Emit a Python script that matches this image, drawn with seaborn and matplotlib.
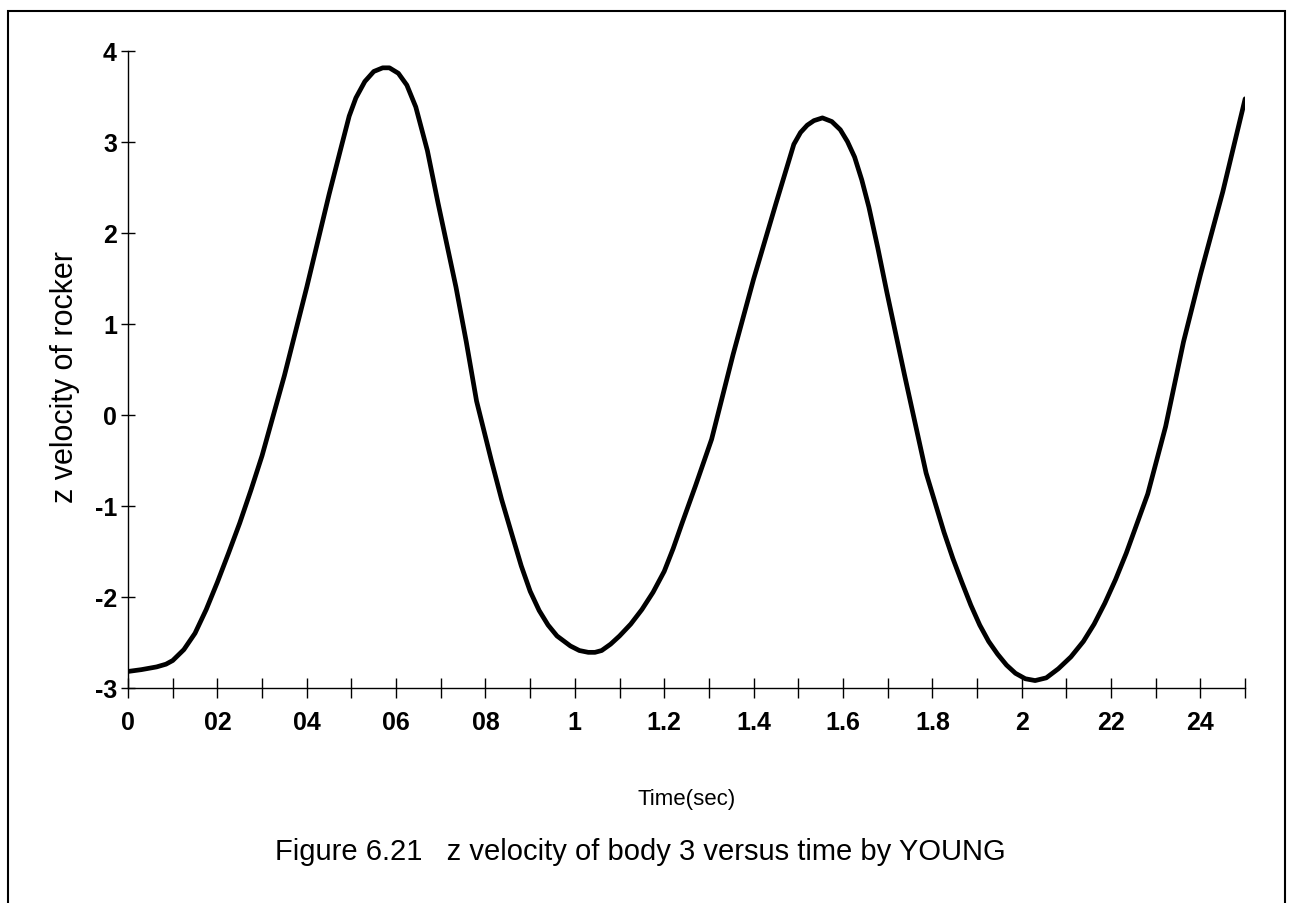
import matplotlib
matplotlib.use("Agg")
import matplotlib.pyplot as plt
import seaborn as sns
import pandas as pd

# curve
time_sec = [0.00, 0.03, 0.064, 0.085, 0.10, 0.125, 0.15, 0.175, 0.20, 0.225,
            0.25, 0.275, 0.30, 0.35, 0.40, 0.45, 0.475, 0.495, 0.51, 0.53,
            0.55, 0.57, 0.585, 0.605, 0.624, 0.644, 0.67, 0.694, 0.714, 0.734,
            0.757, 0.78, 0.813, 0.836, 0.86, 0.88, 0.90, 0.92, 0.94, 0.96,
            0.99, 1.01, 1.03, 1.045, 1.06, 1.08, 1.10, 1.125, 1.15, 1.175,
            1.20, 1.22, 1.24, 1.27, 1.306, 1.354, 1.40, 1.45, 1.49, 1.505,
            1.52, 1.535, 1.554, 1.575, 1.594, 1.61, 1.626, 1.642, 1.658, 1.678,
            1.698, 1.738, 1.786, 1.826, 1.846, 1.866, 1.886, 1.906, 1.926, 1.946,
            1.966, 1.986, 2.008, 2.03, 2.055, 2.082, 2.11, 2.138, 2.162, 2.186,
            2.21, 2.234, 2.282, 2.322, 2.362, 2.40, 2.45, 2.50]
z_vel = [-2.82, -2.80, -2.77, -2.74, -2.70, -2.58, -2.40, -2.14, -1.84, -1.52,
         -1.19, -0.83, -0.45, 0.43, 1.40, 2.42, 2.90, 3.28, 3.48, 3.66,
         3.77, 3.81, 3.81, 3.75, 3.62, 3.38, 2.90, 2.32, 1.86, 1.40,
         0.80, 0.15, -0.50, -0.93, -1.33, -1.66, -1.94, -2.15, -2.31, -2.43,
         -2.54, -2.59, -2.61, -2.61, -2.59, -2.52, -2.43, -2.30, -2.14, -1.95,
         -1.72, -1.47, -1.19, -0.78, -0.27, 0.66, 1.49, 2.32, 2.97, 3.10,
         3.18, 3.23, 3.26, 3.22, 3.13, 3.00, 2.83, 2.58, 2.28, 1.83,
         1.35, 0.43, -0.64, -1.29, -1.58, -1.84, -2.09, -2.31, -2.49, -2.63,
         -2.75, -2.84, -2.90, -2.92, -2.89, -2.79, -2.66, -2.49, -2.30, -2.07,
         -1.81, -1.52, -0.87, -0.13, 0.80, 1.54, 2.45, 3.47]

x_ticks = [i / 10 for i in range(26)]
x_labels = ["0", "", "02", "", "04", "", "06", "", "08", "", "1", "", "1.2", "",
            "1.4", "", "1.6", "", "1.8", "", "2", "", "22", "", "24", ""]
y_ticks = [4, 3, 2, 1, 0, -1, -2, -3]
y_labels = ["4", "3", "2", "1", "0", "-1", "-2", "-3"]

df = pd.DataFrame({"t": time_sec, "v": z_vel})

sns.set_style("ticks")
plt.rcParams["font.family"] = ["Liberation Sans", "DejaVu Sans"]
plt.rcParams["text.color"] = "black"
plt.rcParams["axes.labelcolor"] = "black"

fig = plt.figure(figsize=(12.93, 9.04), dpi=100)
ax = fig.add_axes([0.099, 0.238, 0.864, 0.705])

sns.lineplot(data=df, x="t", y="v", sort=False, color="black", linewidth=3.4, ax=ax)

ax.set_xlim(0, 2.5)
ax.set_ylim(-3, 4)
ax.set_xticks(x_ticks)
ax.set_xticklabels(x_labels, fontsize=18, fontweight="bold")
ax.set_yticks(y_ticks)
ax.set_yticklabels(y_labels, fontsize=18, fontweight="bold")
ax.tick_params(axis="x", bottom=True, direction="inout", length=14, width=1, pad=9, colors="black")
ax.tick_params(axis="y", left=True, direction="inout", length=10, width=1, pad=3, colors="black")

for side in ["top", "right"]:
    ax.spines[side].set_visible(False)
for side in ["left", "bottom"]:
    ax.spines[side].set_color("black")
    ax.spines[side].set_linewidth(1.0)

ax.set_xlabel("Time(sec)", fontsize=16)
ax.xaxis.set_label_coords(0.5, -0.174)
ax.xaxis.label.set_va("center")
ax.set_ylabel("z velocity of rocker", fontsize=22)
ax.yaxis.set_label_coords(-0.056, 0.49)
ax.yaxis.label.set_va("center")

fig.text(0.495, 1 - 852 / 904, "Figure 6.21   z velocity of body 3 versus time by YOUNG",
         fontsize=21, ha="center", va="center")

# frame round the whole figure, open at the bottom edge
frame = plt.Rectangle((8 / 1293, -0.05), 1277 / 1293, 1.05 - 12 / 904,
                      transform=fig.transFigure, fill=False, edgecolor="black",
                      linewidth=1.5, clip_on=False)
fig.patches.append(frame)

fig.savefig("out.png", dpi=100, facecolor="white")
